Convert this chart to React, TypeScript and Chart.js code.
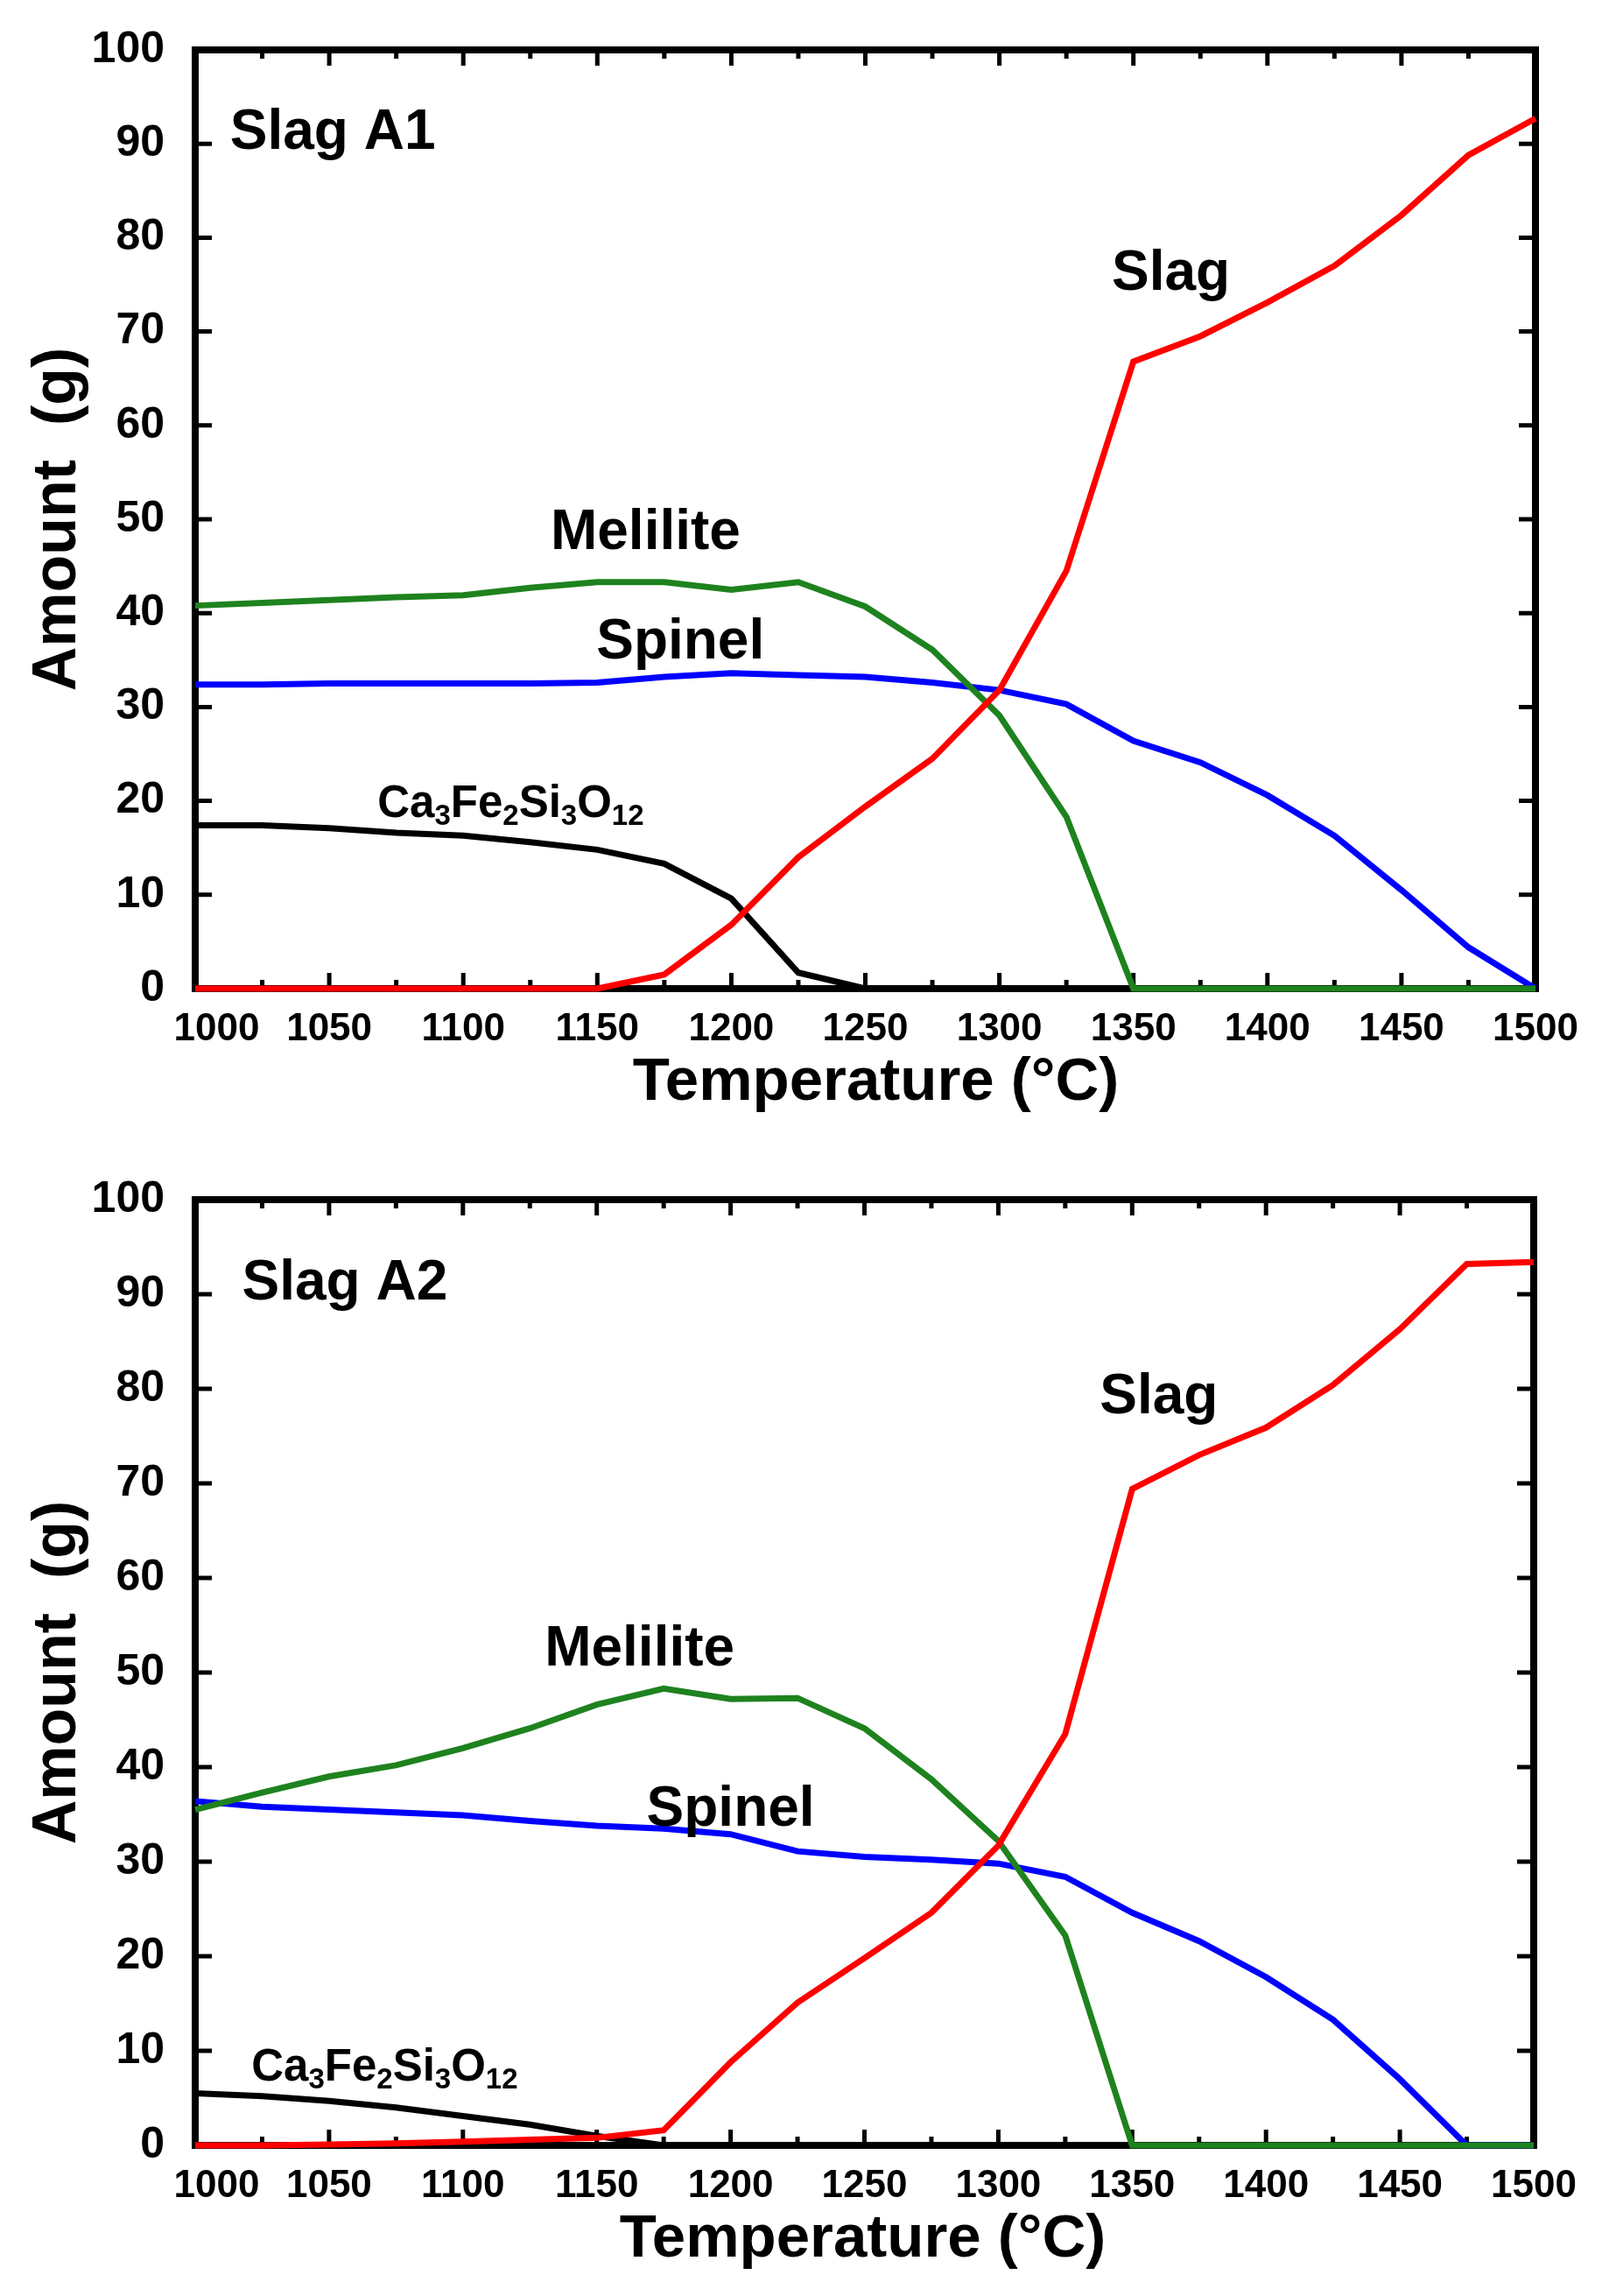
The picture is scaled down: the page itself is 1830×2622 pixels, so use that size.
import React, { useEffect, useRef } from 'react';
import { Chart, registerables } from 'chart.js';

Chart.register(...registerables);

const temps = [
  1000, 1025, 1050, 1075, 1100, 1125, 1150, 1175, 1200, 1225, 1250,
  1275, 1300, 1325, 1350, 1375, 1400, 1425, 1450, 1475, 1500,
];
const yTicks = [0, 10, 20, 30, 40, 50, 60, 70, 80, 90, 100];

// Slag A1 (g)
const a1Garnet = [17.4, 17.4, 17.1, 16.6, 16.3, 15.6, 14.8, 13.3, 9.6, 1.7, 0, 0, 0, 0, 0, 0, 0, 0, 0, 0, 0];
const a1Spinel = [32.4, 32.4, 32.5, 32.5, 32.5, 32.5, 32.6, 33.2, 33.6, 33.4, 33.2, 32.6, 31.8, 30.3, 26.4, 24.1, 20.6, 16.3, 10.5, 4.4, 0];
const a1Melilite = [40.8, 41.1, 41.4, 41.7, 41.9, 42.7, 43.3, 43.3, 42.5, 43.3, 40.7, 36.1, 29.1, 18.3, 0, 0, 0, 0, 0, 0, 0];
const a1Slag = [0, 0, 0, 0, 0, 0, 0, 1.5, 6.8, 14.0, 19.4, 24.5, 31.8, 44.5, 66.8, 69.5, 73.1, 77.0, 82.4, 88.8, 92.7];

// Slag A2 (g)
const a2Garnet = [5.5, 5.2, 4.7, 4.0, 3.1, 2.2, 1.0, 0, 0, 0, 0, 0, 0, 0, 0, 0, 0, 0, 0, 0, 0];
const a2Spinel = [36.4, 35.8, 35.5, 35.2, 34.9, 34.3, 33.8, 33.5, 32.9, 31.1, 30.5, 30.2, 29.8, 28.4, 24.6, 21.6, 17.8, 13.3, 7.0, 0, 0];
const a2Melilite = [35.5, 37.3, 39.0, 40.2, 42.0, 44.1, 46.6, 48.3, 47.2, 47.3, 44.1, 38.7, 32.2, 22.2, 0, 0, 0, 0, 0, 0, 0];
const a2Slag = [0, 0, 0.1, 0.2, 0.4, 0.6, 0.8, 1.6, 8.8, 15.1, 19.8, 24.6, 31.7, 43.5, 69.4, 73.0, 75.9, 80.4, 86.3, 93.2, 93.4];

const FONT = '"Liberation Sans", Arial, sans-serif';
const COLORS = { garnet: '#000000', spinel: '#0000ff', melilite: '#1e821e', slag: '#ff0000' };

interface LabelPos { x: number; y: number }
interface PanelProps {
  title: string;
  garnet: number[];
  spinel: number[];
  melilite: number[];
  slag: number[];
  area: { top: number; bottom: number; left: number; right: number };
  xTitleShift: number;
  labels: { title: LabelPos; melilite: LabelPos; spinel: LabelPos; slag: LabelPos; garnet: LabelPos };
}

const CANVAS_W = 1830;
const CANVAS_H = 1311;

const Panel: React.FC<PanelProps> = (p) => {
  const ref = useRef<HTMLCanvasElement>(null);

  useEffect(() => {
    if (!ref.current) return;
    const pts = (vals: number[]) => temps.map((t, i) => ({ x: t, y: vals[i] }));
    const ds = (label: string, vals: number[], color: string) => ({
      label,
      data: pts(vals),
      borderColor: color,
      backgroundColor: color,
      borderWidth: 7,
      pointRadius: 0,
      tension: 0,
      clip: false as const,
    });

    const decor = {
      id: 'decor',
      beforeDatasetsDraw(chart: Chart) {
        const { ctx, chartArea } = chart;
        const { left, right, top, bottom } = chartArea;
        const x = chart.scales.x;
        const y = chart.scales.y;
        ctx.save();
        ctx.strokeStyle = '#000';
        ctx.lineWidth = 5;
        ctx.beginPath();
        for (let t = 1000; t <= 1500; t += 25) {
          const px = x.getPixelForValue(t);
          const len = t % 50 === 0 ? 18 : 10;
          ctx.moveTo(px, bottom); ctx.lineTo(px, bottom - len);
          ctx.moveTo(px, top); ctx.lineTo(px, top + len);
        }
        yTicks.forEach((v) => {
          const py = y.getPixelForValue(v);
          ctx.moveTo(left, py); ctx.lineTo(left + 19, py);
          ctx.moveTo(right, py); ctx.lineTo(right - 19, py);
        });
        ctx.stroke();
        ctx.lineWidth = 8;
        ctx.strokeRect(left, top, right - left, bottom - top);

        // axis titles
        ctx.fillStyle = '#000';
        ctx.font = `bold 69px ${FONT}`;
        ctx.textAlign = 'center';
        ctx.textBaseline = 'middle';
        ctx.fillText('Temperature (°C)', (left + right) / 2 + p.xTitleShift, bottom + 108);
        ctx.save();
        ctx.translate(67, (top + bottom) / 2);
        ctx.rotate(-Math.PI / 2);
        ctx.font = `bold 70px ${FONT}`;
        ctx.fillText('Amount  (g)', 0, 0);
        ctx.restore();
        ctx.restore();
      },
      afterDatasetsDraw(chart: Chart) {
        const { ctx } = chart;
        const x = chart.scales.x;
        const y = chart.scales.y;
        const L = p.labels;
        ctx.save();
        ctx.fillStyle = '#000';
        ctx.textBaseline = 'middle';
        ctx.font = `bold 64px ${FONT}`;
        ctx.textAlign = 'left';
        ctx.fillText(p.title, x.getPixelForValue(L.title.x), y.getPixelForValue(L.title.y));
        ctx.textAlign = 'center';
        ctx.fillText('Melilite', x.getPixelForValue(L.melilite.x), y.getPixelForValue(L.melilite.y));
        ctx.fillText('Spinel', x.getPixelForValue(L.spinel.x), y.getPixelForValue(L.spinel.y));
        ctx.fillText('Slag', x.getPixelForValue(L.slag.x), y.getPixelForValue(L.slag.y));

        // Ca3Fe2Si3O12 with subscripts
        const parts: [string, boolean][] = [
          ['Ca', false], ['3', true], ['Fe', false], ['2', true],
          ['Si', false], ['3', true], ['O', false], ['12', true],
        ];
        let cx = x.getPixelForValue(L.garnet.x);
        const cy = y.getPixelForValue(L.garnet.y);
        ctx.textAlign = 'left';
        ctx.textBaseline = 'alphabetic';
        parts.forEach(([s, sub]) => {
          ctx.font = sub ? `bold 33px ${FONT}` : `bold 51px ${FONT}`;
          ctx.fillText(s, cx, sub ? cy + 27 : cy + 18);
          cx += ctx.measureText(s).width;
        });
        ctx.restore();
      },
    };

    const chart = new Chart(ref.current, {
      type: 'line',
      data: {
        // first dataset is drawn on top
        datasets: [
          ds('Slag', p.slag, COLORS.slag),
          ds('Melilite', p.melilite, COLORS.melilite),
          ds('Spinel', p.spinel, COLORS.spinel),
          ds('Ca3Fe2Si3O12', p.garnet, COLORS.garnet),
        ],
      },
      options: {
        animation: false,
        responsive: true,
        maintainAspectRatio: false,
        layout: {
          padding: { top: p.area.top, right: CANVAS_W - p.area.right, left: 0, bottom: 0 },
        },
        plugins: {
          legend: { display: false },
          tooltip: { enabled: false },
        },
        scales: {
          x: {
            type: 'linear',
            min: 1000,
            max: 1500,
            grid: { display: false },
            border: { display: false },
            afterFit: (scale: any) => { scale.height = CANVAS_H - p.area.bottom; },
            ticks: {
              stepSize: 50,
              color: '#000',
              padding: 12,
              maxRotation: 0,
              font: { family: FONT, size: 44, weight: 'bold' },
              callback: (v: any) => (v === 1000 ? '    1000' : String(v)),
            },
          },
          y: {
            min: 0,
            max: 100,
            grid: { display: false },
            border: { display: false },
            afterFit: (scale: any) => { scale.width = p.area.left; },
            ticks: {
              stepSize: 10,
              color: '#000',
              padding: 27,
              font: { family: FONT, size: 50, weight: 'bold' },
              callback: (v: any) => String(v),
            },
          },
        },
      },
      plugins: [decor],
    });

    return () => {
      chart.destroy();
    };
  }, [p]);

  return (
    <div style={{ position: 'relative', width: CANVAS_W, height: CANVAS_H }}>
      <canvas ref={ref}></canvas>
    </div>
  );
};

const panelA1: PanelProps = {
  title: 'Slag A1',
  garnet: a1Garnet,
  spinel: a1Spinel,
  melilite: a1Melilite,
  slag: a1Slag,
  area: { top: 56, bottom: 1129, left: 223, right: 1754 },
  xTitleShift: 12,
  labels: {
    title: { x: 1013, y: 91.1 },
    melilite: { x: 1168, y: 48.5 },
    spinel: { x: 1181, y: 36.8 },
    slag: { x: 1364, y: 76.1 },
    garnet: { x: 1068, y: 20 },
  },
};

const panelA2: PanelProps = {
  title: 'Slag A2',
  garnet: a2Garnet,
  spinel: a2Spinel,
  melilite: a2Melilite,
  slag: a2Slag,
  area: { top: 59, bottom: 1139, left: 223, right: 1752 },
  xTitleShift: -2,
  labels: {
    title: { x: 1017.5, y: 91.1 },
    melilite: { x: 1166, y: 52.4 },
    spinel: { x: 1200, y: 35.4 },
    slag: { x: 1360, y: 79 },
    garnet: { x: 1021, y: 8.5 },
  },
};

export default function App() {
  return (
    <div style={{ position: 'absolute', left: 0, top: 0, width: CANVAS_W, height: 2622, background: '#fff' }}>
      <Panel {...panelA1} />
      <Panel {...panelA2} />
    </div>
  );
}
